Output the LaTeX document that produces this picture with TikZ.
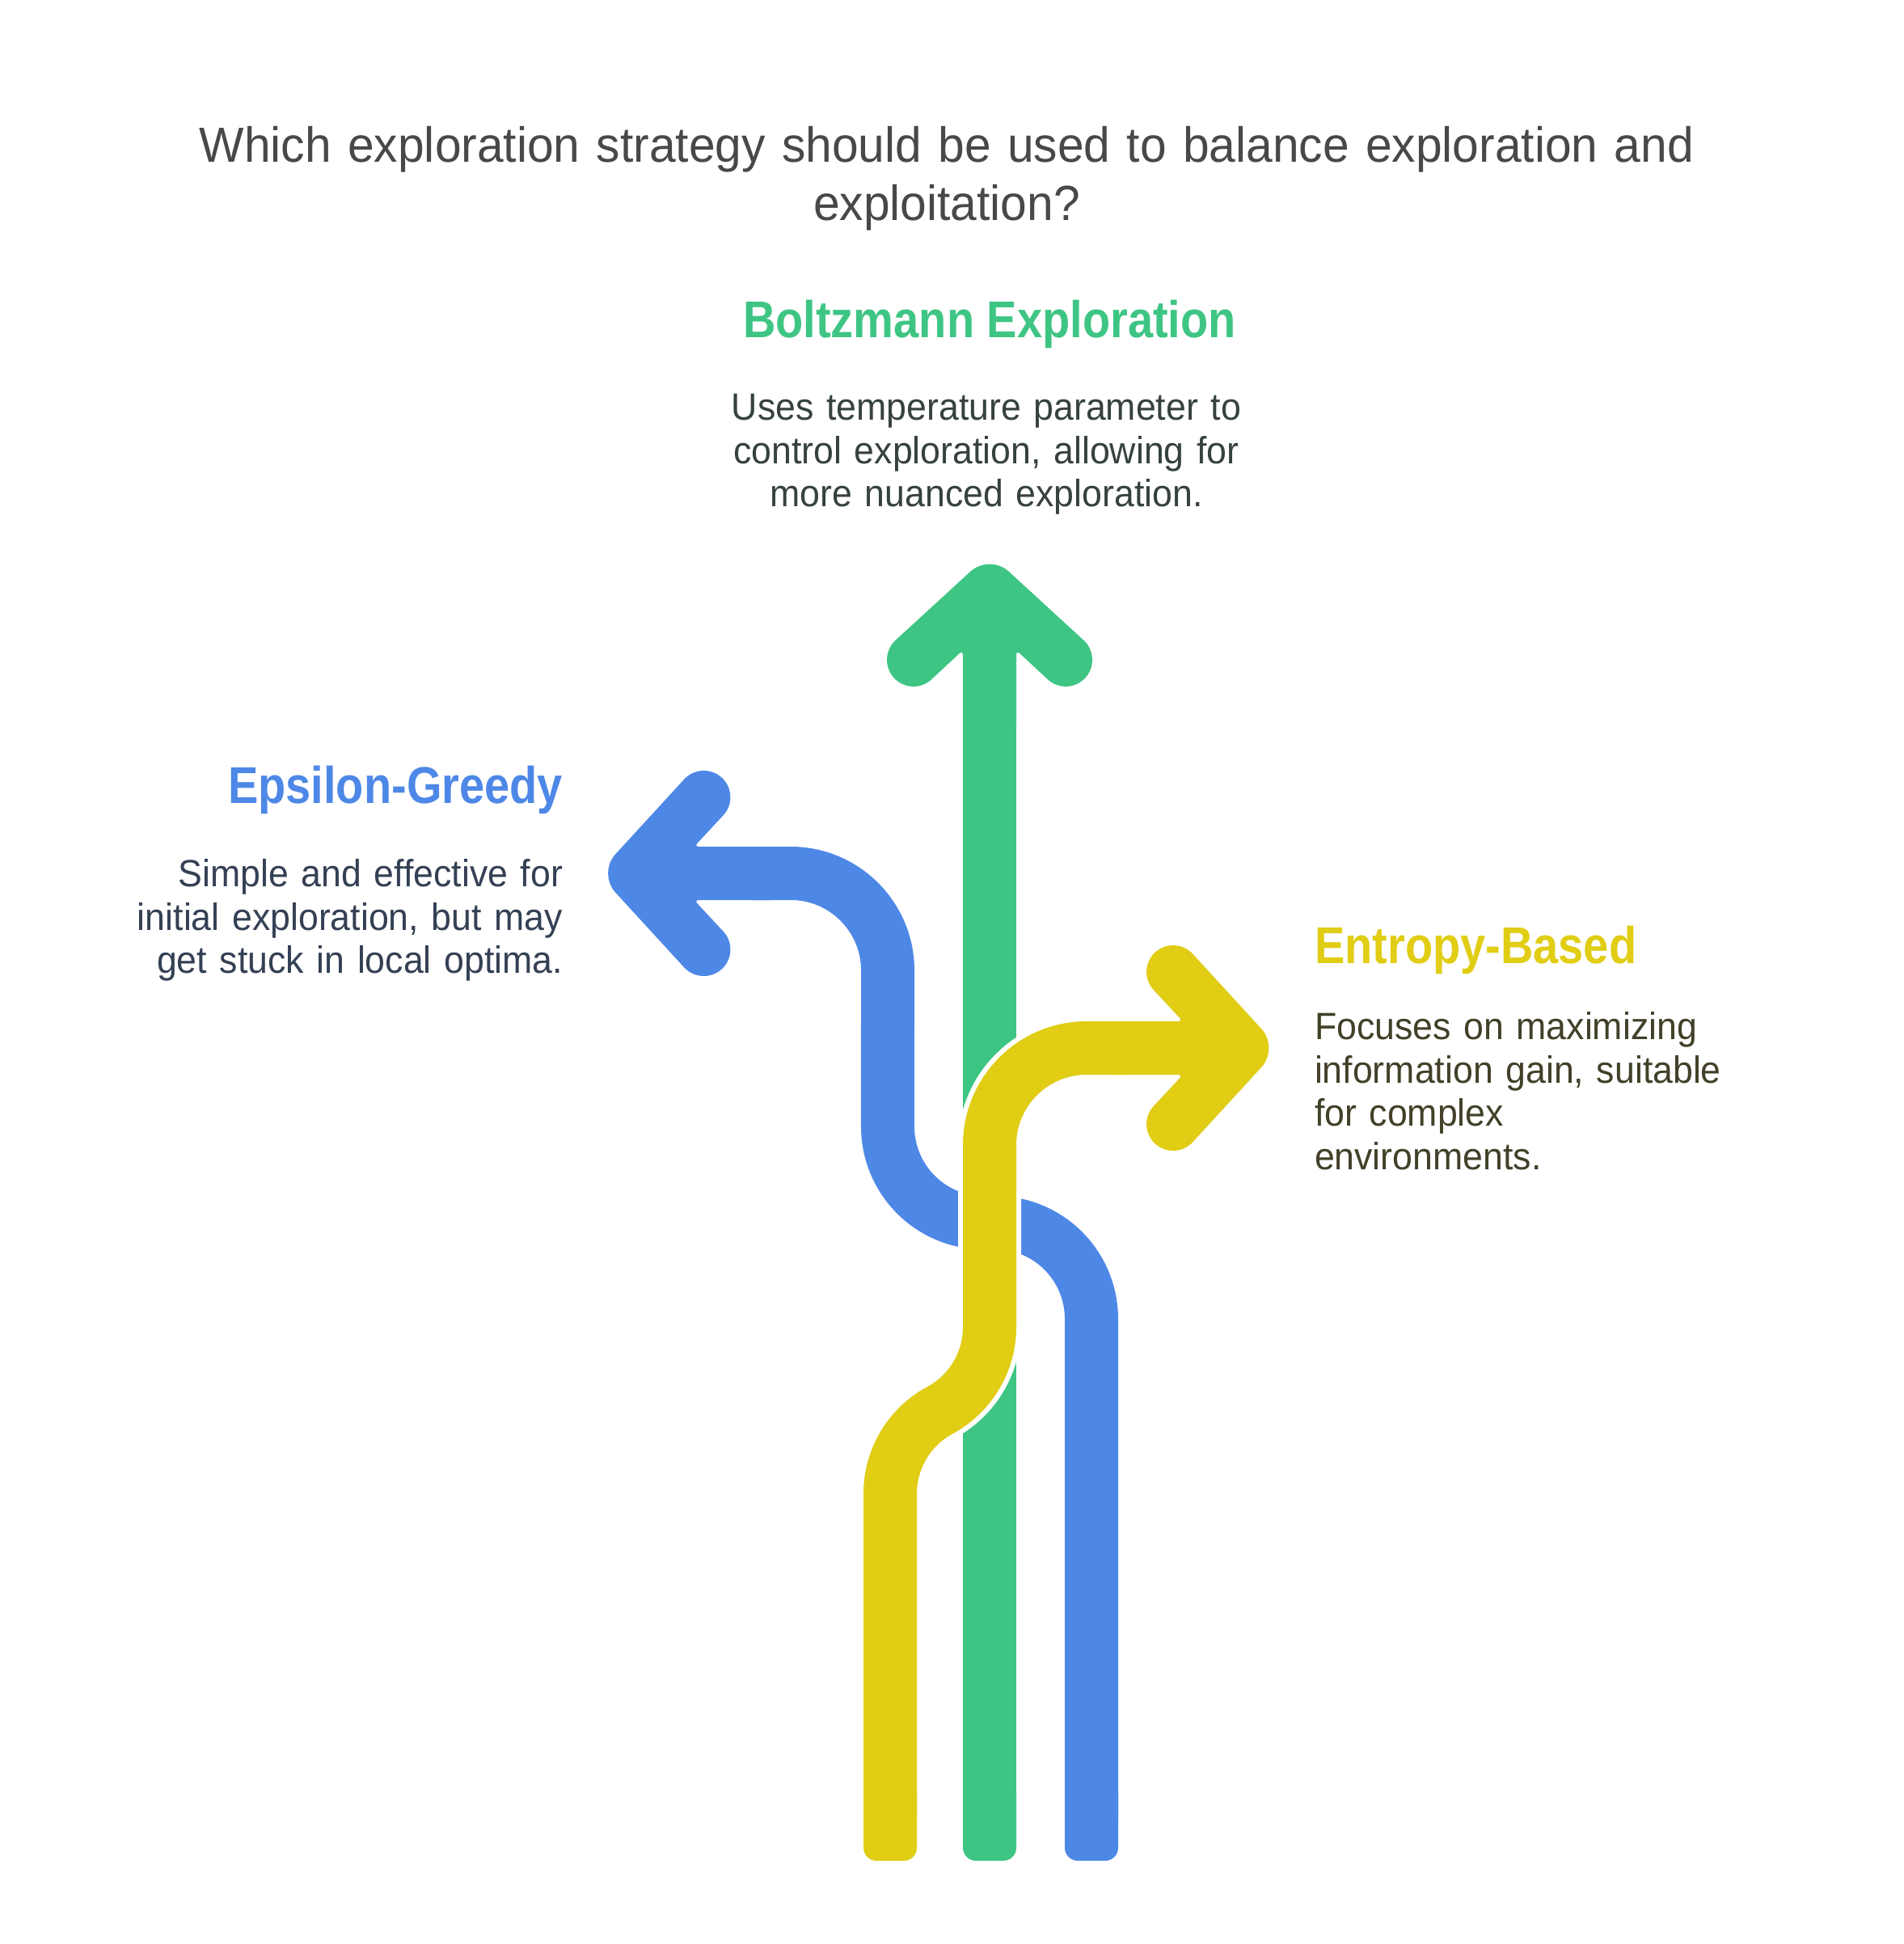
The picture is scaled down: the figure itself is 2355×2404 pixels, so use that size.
\documentclass[tikz,border=0pt]{standalone}
\usepackage{fontspec}
\setmainfont{Liberation Sans}
\newfontfamily\titlefont[FakeStretch=0.963]{Liberation Sans}
\newfontfamily\bodyfont[FakeStretch=0.95]{Liberation Sans}
\newfontfamily\headfont[FakeStretch=0.875,UprightFont={* Bold}]{Liberation Sans}
\definecolor{cblue}{RGB}{78,136,231}
\definecolor{cgreen}{RGB}{62,197,132}
\definecolor{cyellow}{RGB}{224,205,20}
\definecolor{ctitle}{RGB}{72,72,72}
\definecolor{tgreen}{RGB}{54,66,60}
\definecolor{tblue}{RGB}{52,64,84}
\definecolor{tyellow}{RGB}{66,64,40}
\newcommand{\arrowhead}[1]{%
  \fill[#1] [rounded corners=6pt] (-200,-33) -- (-105,-33)
    [rounded corners=33pt] -- (-163.6,-96) -- (-115,-140.6)
    [rounded corners=32pt] -- (14,0)
    [rounded corners=33pt] -- (-115,140.6) -- (-163.6,96)
    [rounded corners=6pt] -- (-105,33) [sharp corners] -- (-200,33) -- cycle;}
\tikzset{
  ribbon/.style={line width=66pt,line cap=butt,line join=round},
  casing/.style={line width=78pt,line cap=butt,draw=white},
  headline/.style={font=\headfont\fontsize{64}{71}\selectfont},
  bodytext/.style={font=\bodyfont\fontsize{47}{53.6}\selectfont},
  every node/.style={inner sep=0pt,outer sep=0pt}
}
\begin{document}
\begin{tikzpicture}[x=1pt,y=-1pt]
\useasboundingbox (0,0) rectangle (2355,2404);
\fill[white] (0,0) rectangle (2355,2404);
% green
\fill[cgreen,rounded corners=16pt] (1191,2200) -- (1191,2301) -- (1257,2301) -- (1257,2200) -- cycle;
\draw[ribbon,cgreen] (1224,2250) -- (1224,860);
\begin{scope}[cm={0,1,1,0,(1224,699)}]
\arrowhead{cgreen}
\end{scope}
% blue
\fill[cblue,rounded corners=16pt] (1317,2200) -- (1317,2301) -- (1383,2301) -- (1383,2200) -- cycle;
\draw[ribbon,cblue] (1350,2250) -- (1350,1631)
  arc[start angle=0,end angle=-93.28,radius=119.2]
  arc[start angle=86.72,end angle=180,radius=119.2]
  -- (1098,1200) arc[start angle=0,end angle=-90,radius=120] -- (930,1080);
\begin{scope}[cm={-1,0,0,1,(753.5,1080)}]
\arrowhead{cblue}
\end{scope}
% yellow
\draw[casing] (1101,1880) -- (1101,1847)
  arc[start angle=180,end angle=241.68,radius=117]
  arc[start angle=61.68,end angle=0,radius=117]
  -- (1224,1416) arc[start angle=180,end angle=270,radius=120] -- (1400,1296);
\fill[cyellow,rounded corners=16pt] (1068,2200) -- (1068,2301) -- (1134,2301) -- (1134,2200) -- cycle;
\draw[ribbon,cyellow] (1101,2250) -- (1101,1847)
  arc[start angle=180,end angle=241.68,radius=117]
  arc[start angle=61.68,end angle=0,radius=117]
  -- (1224,1416) arc[start angle=180,end angle=270,radius=120] -- (1400,1296);
\begin{scope}[cm={1,0,0,1,(1568,1296)}]
\arrowhead{cyellow}
\end{scope}
% text
\node[font=\titlefont\fontsize{61}{72}\selectfont,text=ctitle,align=center,text width=2100pt] (title) at (1171,221)
  {Which exploration strategy should be used to balance exploration and\\exploitation?};
\node[headline,text=cgreen] (bhead) at (1224,401) {Boltzmann Exploration};
\node[bodytext,text=tgreen,align=center,text width=800pt] (bbody) at (1220,562)
  {Uses temperature parameter to\\control exploration, allowing for\\more nuanced exploration.};
\node[headline,text=cblue,anchor=east] (ehead) at (696,977) {Epsilon-Greedy};
\node[bodytext,text=tblue,align=right,anchor=east,text width=800pt] (ebody) at (696,1138)
  {Simple and effective for\\initial exploration, but may\\get stuck in local optima.};
\node[headline,text=cyellow,anchor=west] (yhead) at (1626,1175) {Entropy-Based};
\node[bodytext,text=tyellow,align=left,anchor=west,text width=800pt] (ybody) at (1626,1349)
  {Focuses on maximizing\\information gain, suitable\\for complex\\environments.};
\end{tikzpicture}
\end{document}
